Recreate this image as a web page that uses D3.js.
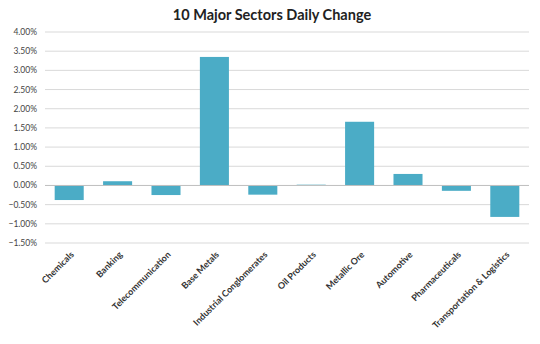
<!DOCTYPE html>
<html>
<head>
<meta charset="utf-8">
<script src="https://cdn.jsdelivr.net/npm/d3@7"></script>
<style>
  body { margin: 0; background: #fff; }
  svg { display: block; }
</style>
</head>
<body>
<svg id="chart" width="540" height="344"></svg>
<script>
const sectors = ["Chemicals", "Banking", "Telecommunication", "Base Metals", "Industrial Conglomerates",
  "Oil Products", "Metallic Ore", "Automotive", "Pharmaceuticals", "Transportation & Logistics"];
const changes = [-0.38, 0.11, -0.25, 3.35, -0.24, 0.02, 1.66, 0.30, -0.14, -0.82];
const yTicks = [-1.5, -1.0, -0.5, 0, 0.5, 1.0, 1.5, 2.0, 2.5, 3.0, 3.5, 4.0];

const svg = d3.select('#chart');
const margin = {top: 32, right: 11, bottom: 101, left: 45};
const width = 540, height = 344;
const innerWidth = width - margin.left - margin.right;
const innerHeight = height - margin.top - margin.bottom;

svg.append('text')
  .attr('x', 272).attr('y', 20)
  .attr('text-anchor', 'middle')
  .attr('font-family', 'Lato, Arial, sans-serif')
  .attr('font-weight', 'bold')
  .attr('font-size', 14.5)
  .attr('fill', '#222')
  .text('10 Major Sectors Daily Change');

const g = svg.append('g').attr('transform', 'translate(' + margin.left + ',' + margin.top + ')');

const x = d3.scaleBand().domain(sectors).range([0, innerWidth]).paddingInner(0.4).paddingOuter(0.2);
const y = d3.scaleLinear().domain([-1.5, 4.0]).range([innerHeight, 0]);

// gridlines
g.selectAll('.grid').data(yTicks.filter(d => d !== 0)).enter()
  .append('line')
  .attr('x1', 0).attr('x2', innerWidth)
  .attr('y1', d => y(d)).attr('y2', d => y(d))
  .attr('stroke', '#d9d9d9').attr('stroke-width', 1);

// y labels
g.selectAll('.ylab').data(yTicks).enter()
  .append('text')
  .attr('x', -8).attr('y', d => y(d))
  .attr('dy', '0.35em')
  .attr('text-anchor', 'end')
  .attr('font-family', 'Lato, Arial, sans-serif')
  .attr('font-size', 8.5)
  .attr('fill', '#444')
  .text(d => d3.format('.2f')(d) + '%');

// bars
g.selectAll('.bar').data(changes).enter()
  .append('rect')
  .attr('x', (d, i) => x(sectors[i]))
  .attr('width', x.bandwidth())
  .attr('y', d => y(Math.max(0, d)))
  .attr('height', d => Math.abs(y(d) - y(0)))
  .attr('fill', '#4bacc6');

// zero axis
g.append('line')
  .attr('x1', 0).attr('x2', innerWidth)
  .attr('y1', y(0)).attr('y2', y(0))
  .attr('stroke', '#bfbfbf').attr('stroke-width', 1);

// category labels
g.selectAll('.xlab').data(sectors).enter()
  .append('text')
  .attr('transform', d => 'translate(' + (x(d) + x.bandwidth() / 2 + 3) + ',' + (innerHeight + 10) + ') rotate(-45)')
  .attr('text-anchor', 'end')
  .attr('dy', '0.35em')
  .attr('font-family', 'Lato, Arial, sans-serif')
  .attr('font-weight', 'bold')
  .attr('font-size', 9)
  .attr('fill', '#333')
  .text(d => d);
</script>
</body>
</html>
